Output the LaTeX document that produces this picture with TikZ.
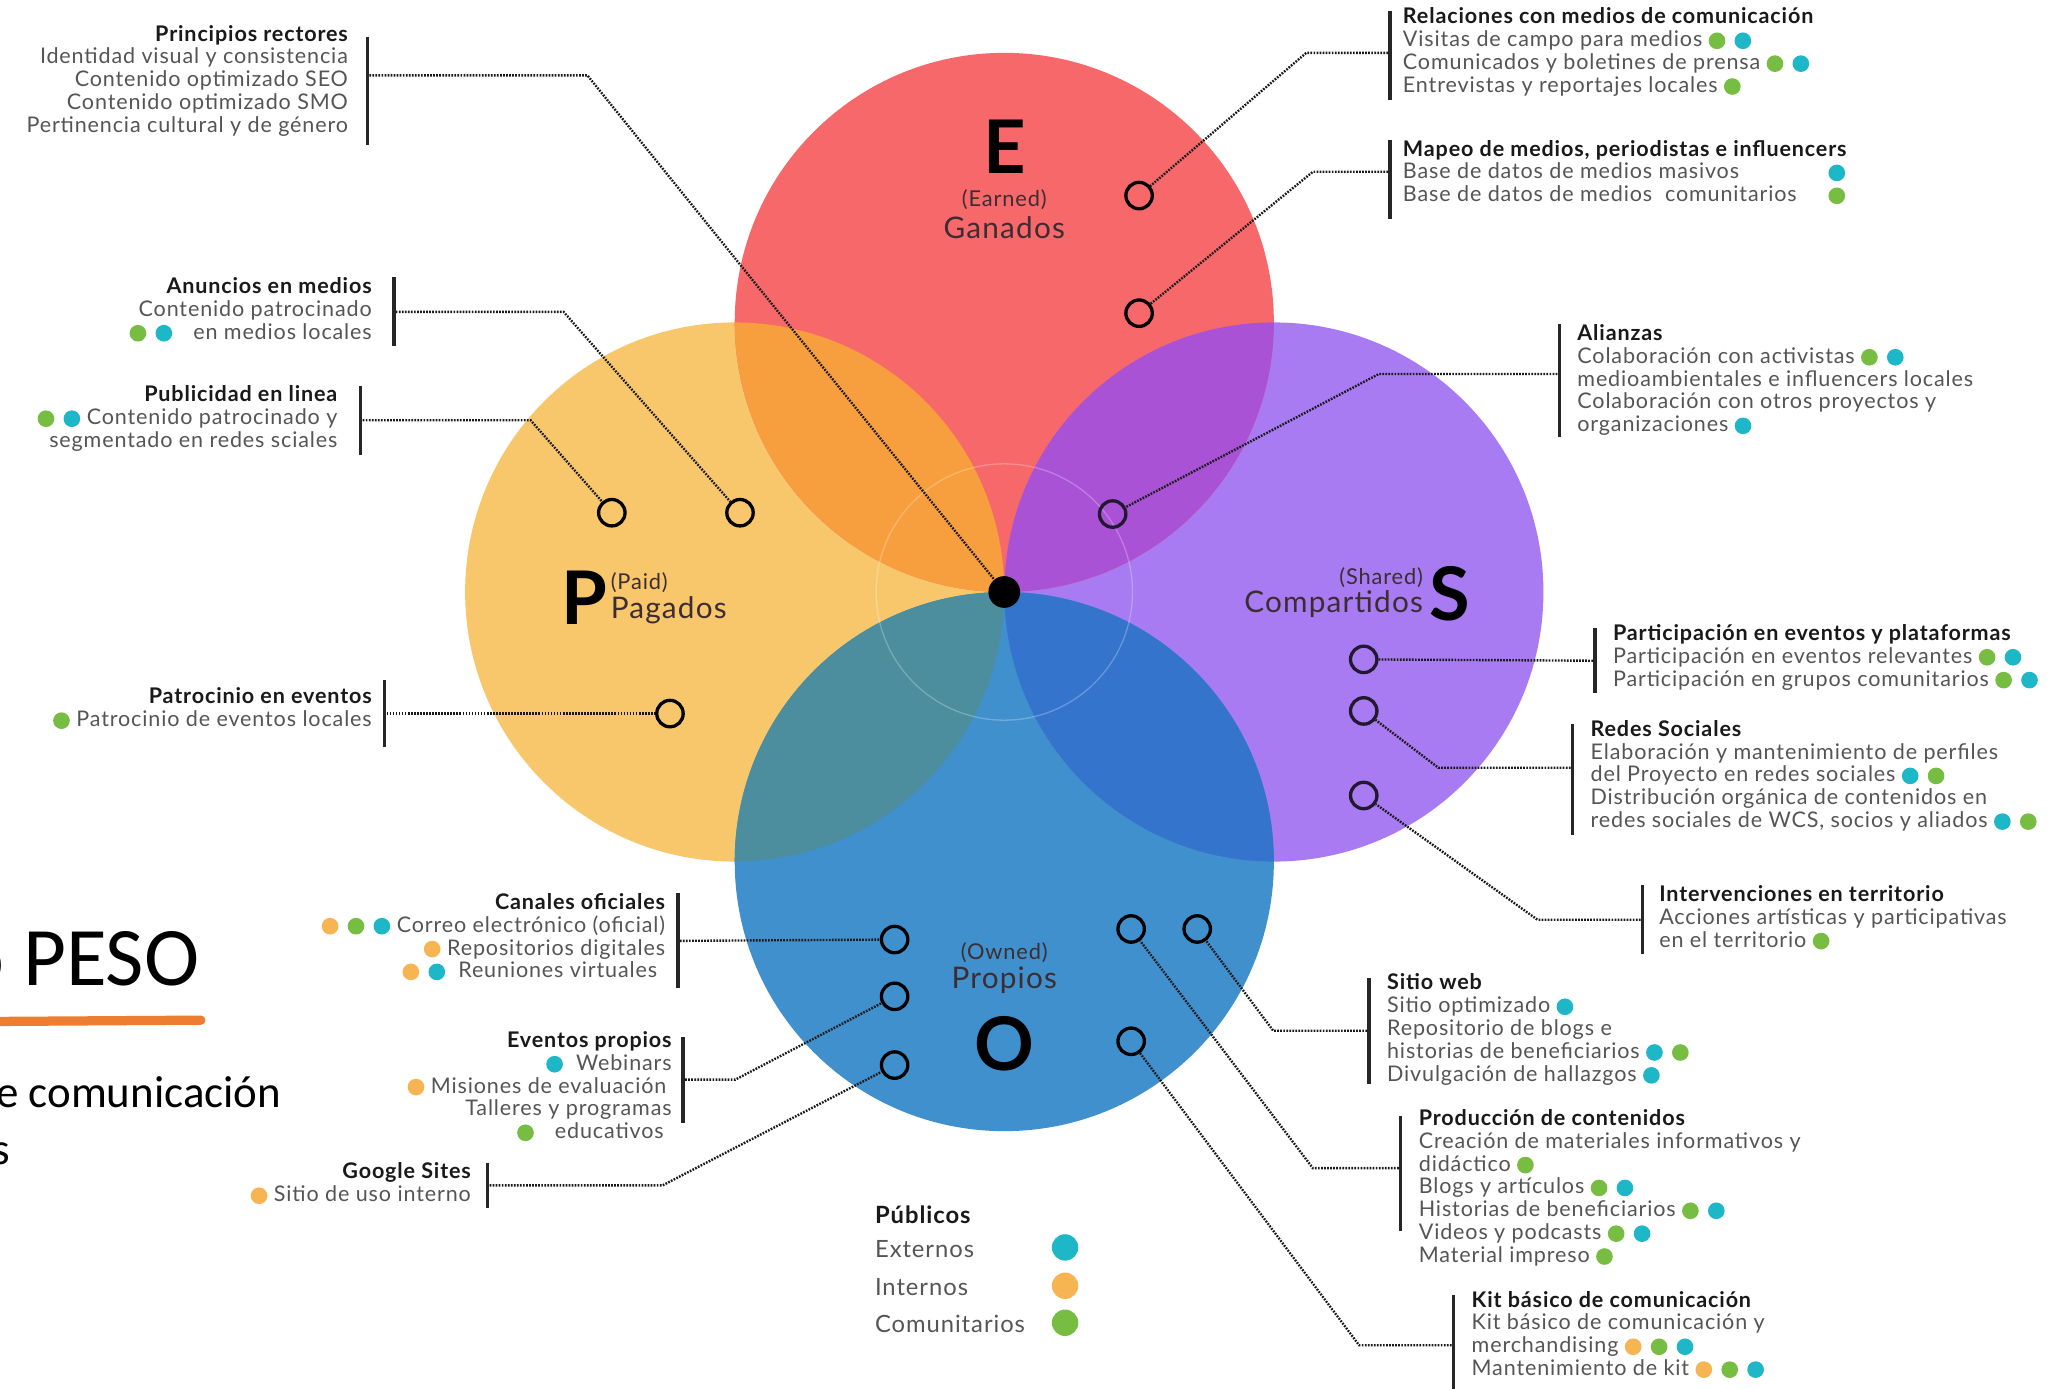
\documentclass[tikz,border=0pt]{standalone}
\usepackage{fontspec}
\setmainfont{Lato}[LetterSpace=4]
\newfontfamily\slidefont{Carlito}
\usetikzlibrary{positioning}
\definecolor{cRed}{RGB}{247,104,106}
\definecolor{cYel}{RGB}{248,199,107}
\definecolor{cPur}{RGB}{168,123,242}
\definecolor{cBlu}{RGB}{64,144,206}
\definecolor{cOrg}{RGB}{247,158,62}
\definecolor{cMag}{RGB}{170,82,214}
\definecolor{cTea}{RGB}{76,142,158}
\definecolor{cDbl}{RGB}{53,116,205}
\definecolor{dCyn}{RGB}{30,183,200}
\definecolor{dGrn}{RGB}{118,189,66}
\definecolor{dOrg}{RGB}{246,181,82}
\definecolor{tGry}{RGB}{85,85,85}
\definecolor{tBlk}{RGB}{25,25,25}
\definecolor{tCir}{RGB}{60,45,50}
\definecolor{slideOrg}{RGB}{237,125,49}
\tikzstyle{ring} = [draw=black, circle, line width=2.5pt, minimum size=20pt, inner sep=0pt]
\tikzstyle{link} = [draw=black!90, dash pattern=on 1.3pt off 1pt, line width=1.8pt]
\newcommand{\pd}[1]{\tikz[baseline=-0.55ex]\fill[#1] (0,0) circle (6.3pt);}
\newcommand{\gp}{\kern7pt}
\newcommand{\hd}[1]{\textcolor{tBlk}{\bfseries #1}}

\begin{document}
\begin{tikzpicture}[x=1pt, y=-1pt,
	vbar/.style={fill=black!85, minimum width=2.6pt, inner sep=0pt, minimum height=#1},
	lbl/.style={inner sep=0pt, text=tGry, font=\fontsize{16.3}{17.3}\selectfont},
	big/.style={inner sep=0pt, text=black, font=\bfseries\fontsize{56}{56}\selectfont},
	csub/.style={inner sep=0pt, text=tCir, font=\fontsize{16.5}{17}\selectfont},
	cname/.style={inner sep=0pt, text=tCir, font=\fontsize{22.5}{23}\selectfont},
	dotbig/.style={circle, fill=#1, minimum size=20pt, inner sep=0pt}]
    \fill[white] (0,0) rectangle (1568,1051);
    \useasboundingbox (0,0) rectangle (1568,1051);
    %% Circles
    \coordinate (cE) at (760,244);
    \coordinate (cP) at (556,448);
    \coordinate (cS) at (964,448);
    \coordinate (cO) at (760,652);
    \fill[cYel] (cP) circle (204pt);
    \fill[cPur] (cS) circle (204pt);
    \fill[cRed] (cE) circle (204pt);
    \fill[cBlu] (cO) circle (204pt);
    \begin{scope}
        \clip (cE) circle (204pt);
        \fill[cOrg] (cP) circle (204pt);
        \fill[cMag] (cS) circle (204pt);
    \end{scope}
    \begin{scope}
        \clip (cO) circle (204pt);
        \fill[cTea] (cP) circle (204pt);
        \fill[cDbl] (cS) circle (204pt);
    \end{scope}
    \draw[white, opacity=0.25, line width=1pt] (760,448) circle (97pt);
    \node[circle, fill=black, minimum size=24pt, inner sep=0pt] (hub) at (760,448) {};
	%% Circle titles
    \node[big] (lE) at (760,111) {E};
    \node[csub] (eE) at (760,151) {(Earned)};
    \node[cname] (gE) at (760,172) {Ganados};
    \node[big] (lP) at (442,452) {P};
    \node[csub, anchor=west] (eP) at (462,441) {(Paid)};
    \node[cname, anchor=west] (gP) at (462,462) {Pagados};
    \node[big] (lS) at (1097,449) {S};
    \node[csub, anchor=east] (eS) at (1077,437) {(Shared)};
    \node[cname, anchor=east] (gS) at (1077,457) {Compartidos};
    \node[big] (lO) at (760,790) {O};
    \node[csub] (eO) at (760,721) {(Owned)};
    \node[cname] (gO) at (760,742) {Propios};
	%% Markers
    \node[ring] (mE1) at (862,148) {};
    \node[ring] (mE2) at (862,237) {};
    \node[ring] (mP1) at (463,388) {};
    \node[ring] (mP2) at (560,388) {};
    \node[ring] (mP3) at (507,540) {};
    \node[ring, draw=black!80!cPur] (mS1) at (842,389) {};
    \node[ring, draw=black!80!cPur] (mS2) at (1032,499) {};
    \node[ring, draw=black!80!cPur] (mS3) at (1032,538) {};
    \node[ring, draw=black!80!cPur] (mS4) at (1032,602) {};
    \node[ring] (mO1) at (677,711) {};
    \node[ring] (mO2) at (677,754) {};
    \node[ring] (mO3) at (677,806) {};
    \node[ring] (mO4) at (856,703) {};
    \node[ring] (mO5) at (906,703) {};
    \node[ring] (mO6) at (856,788) {};
	%% Left labels
    \node[vbar=82] (vA) at (278,69) {};
    \node[lbl, align=right, left=13pt of vA.north west, anchor=north east, yshift=9pt] (tA)
        {\hd{Principios rectores}\\Identidad visual y consistencia\\Contenido optimizado SEO\\Contenido optimizado SMO\\Pertinencia cultural y de género};
    \node[vbar=52] (vB) at (298,236) {};
    \node[lbl, align=right, left=15pt of vB.north west, anchor=north east] (tB)
        {\hd{Anuncios en medios}\\Contenido patrocinado\\\pd{dGrn}\gp\pd{dCyn}\kern16pt en medios locales};
    \node[vbar=52] (vC) at (273,318) {};
    \node[lbl, align=right, left=16pt of vC.north west, anchor=north east] (tC)
        {\hd{Publicidad en linea}\\\pd{dGrn}\gp\pd{dCyn}\kern5pt Contenido patrocinado y\\segmentado en redes sciales};
    \node[vbar=51] (vD) at (291,540) {};
    \node[lbl, align=right, left=8pt of vD.north west, anchor=north east, yshift=-6pt] (tD)
        {\hd{Patrocinio en eventos}\\\pd{dGrn}\kern5pt Patrocinio de eventos locales};
    \node[vbar=72] (vE) at (513,712) {};
    \node[lbl, align=right, left=8pt of vE.north west, anchor=north east] (tE)
        {\hd{Canales oficiales}\\\pd{dOrg}\gp\pd{dGrn}\gp\pd{dCyn}\kern5pt Correo electrónico (oficial)\\\pd{dOrg}\kern5pt Repositorios digitales\\\pd{dOrg}\gp\pd{dCyn}\kern10pt Reuniones virtuales\kern6pt};
    \node[vbar=65] (vF) at (517,817) {};
    \node[lbl, align=right, left=7pt of vF.north west, anchor=north east, yshift=4pt] (tF)
        {\hd{Eventos propios}\\\pd{dCyn}\kern10pt Webinars\\\pd{dOrg}\kern5pt Misiones de evaluación\kern4pt\\Talleres y programas\\\pd{dGrn}\kern16pt educativos\kern6pt};
    \node[vbar=34] (vG) at (369,897) {};
    \node[lbl, align=right, left=11pt of vG.north west, anchor=north east] (tG)
        {\hd{Google Sites}\\\pd{dOrg}\kern5pt Sitio de uso interno};
	%% Right labels
    \node[vbar=68] (vH) at (1052,42) {};
    \node[lbl, align=left, right=8pt of vH.north east, anchor=north west, yshift=2pt] (tH)
        {\hd{Relaciones con medios de comunicación}\\Visitas de campo para medios \pd{dGrn}\gp\pd{dCyn}\\Comunicados y boletines de prensa \pd{dGrn}\gp\pd{dCyn}\\Entrevistas y reportajes locales \pd{dGrn}};
    \node[vbar=60] (vI) at (1052,136) {};
    \node[lbl, align=left, right=8pt of vI.north east, anchor=north west] (tI)
        {\hd{Mapeo de medios, periodistas e influencers}\\\makebox[322pt][l]{Base de datos de medios masivos}\pd{dCyn}\\\makebox[322pt][l]{Base de datos de medios\ \ comunitarios}\pd{dGrn}};
    \node[vbar=85] (vJ) at (1180,288) {};
    \node[lbl, align=left, right=12pt of vJ.north east, anchor=north west] (tJ)
        {\hd{Alianzas}\\Colaboración con activistas \pd{dGrn}\gp\pd{dCyn}\\medioambientales e influencers locales\\Colaboración con otros proyectos y\\organizaciones \pd{dCyn}};
    \node[vbar=49] (vK) at (1207,500) {};
    \node[lbl, align=left, right=12pt of vK.north east, anchor=north west, yshift=3pt] (tK)
        {\hd{Participación en eventos y plataformas}\\Participación en eventos relevantes \pd{dGrn}\gp\pd{dCyn}\\Participación en grupos comunitarios \pd{dGrn}\gp\pd{dCyn}};
    \node[vbar=84] (vL) at (1190,590) {};
    \node[lbl, align=left, right=12pt of vL.north east, anchor=north west, yshift=3pt] (tL)
        {\hd{Redes Sociales}\\Elaboración y mantenimiento de perfiles\\del Proyecto en redes sociales \pd{dCyn}\gp\pd{dGrn}\\Distribución orgánica de contenidos en\\redes sociales de WCS, socios y aliados \pd{dCyn}\gp\pd{dGrn}};
    \node[vbar=52] (vM) at (1243,696) {};
    \node[lbl, align=left, right=11pt of vM.north east, anchor=north west] (tM)
        {\hd{Intervenciones en territorio}\\Acciones artísticas y participativas\\en el territorio \pd{dGrn}};
    \node[vbar=80] (vN) at (1036,780) {};
    \node[lbl, align=left, right=12pt of vN.north east, anchor=north west, yshift=3pt] (tN)
        {\hd{Sitio web}\\Sitio optimizado \pd{dCyn}\\Repositorio de blogs e\\historias de beneficiarios \pd{dCyn}\gp\pd{dGrn}\\Divulgación de hallazgos \pd{dCyn}};
    \node[vbar=87] (vO) at (1060,888) {};
    \node[lbl, align=left, right=12pt of vO.north east, anchor=north west, yshift=5pt] (tO)
        {\hd{Producción de contenidos}\\Creación de materiales informativos y\\didáctico \pd{dGrn}\\Blogs y artículos \pd{dGrn}\gp\pd{dCyn}\\Historias de beneficiarios \pd{dGrn}\gp\pd{dCyn}\\Videos y podcasts \pd{dGrn}\gp\pd{dCyn}\\Material impreso \pd{dGrn}};
    \node[vbar=76] (vP) at (1100,1018) {};
    \node[lbl, align=left, right=12pt of vP.north east, anchor=north west, yshift=3pt] (tP)
        {\hd{Kit básico de comunicación}\\Kit básico de comunicación y\\merchandising \pd{dOrg}\gp\pd{dGrn}\gp\pd{dCyn}\\Mantenimiento de kit \pd{dOrg}\gp\pd{dGrn}\gp\pd{dCyn}};
	%% Connectors
    \path[link] ([yshift=12pt]vA.east) -- ++(165,0) -- (hub);
    \path[link] (vB.east) -- ++(127,0) -- (mP2);
    \path[link] (vC.east) -- ++(127,0) -- (mP1);
    \path[link] (vD.east) -- (mP3);
    \path[link] (vE.east) -- (mO1);
    \path[link] (vF.east) -- ++(38,0) -- (mO2);
    \path[link] (vG.east) -- ++(131,0) -- (mO3);
    \path[link] ([yshift=2pt]vH.west) -- ++(-62,0) -- (mE1);
    \path[link] ([yshift=6pt]vI.west) -- ++(-57,0) -- (mE2);
    \path[link] ([yshift=5pt]vJ.west) -- ++(-135,0) -- (mS1);
    \path[link] (vK.west) -- (mS2);
    \path[link] ([yshift=9pt]vL.west) -- ++(-100,0) -- (mS3);
    \path[link] (vM.west) -- ++(-78,0) -- (mS4);
    \path[link] (vN.west) -- ++(-71,0) -- (mO5);
    \path[link] ([yshift=4pt]vO.west) -- ++(-65,0) -- (mO4);
    \path[link] (vP.west) -- ++(-70,0) -- (mO6);
	%% Legend
    \node[lbl, anchor=west, font=\fontsize{18}{20}\selectfont] (pub) at (662,919) {\hd{Públicos}};
    \node[lbl, anchor=west, font=\fontsize{18}{20}\selectfont] (ext) at (662,945) {Externos};
    \node[lbl, anchor=west, font=\fontsize{18}{20}\selectfont] (int) at (662,974) {Internos};
    \node[lbl, anchor=west, font=\fontsize{18}{20}\selectfont] (com) at (662,1002) {Comunitarios};
    \node[dotbig=dCyn] (dExt) at (806,944) {};
    \node[dotbig=dOrg] (dInt) at (806,973) {};
    \node[dotbig=dGrn] (dCom) at (806,1001) {};
	%% Slide fragment
    \node[anchor=base east, inner sep=0pt, font=\slidefont\fontsize{63}{63}\selectfont] (peso) at (151,746) {o PESO};
    \draw[slideOrg, line width=7pt, line cap=round] (-5,773) -- (152,772);
    \node[anchor=base east, inner sep=0pt, font=\slidefont\fontsize{34}{34}\selectfont] (slA) at (213,838) {e comunicación};
    \node[anchor=base west, inner sep=0pt, font=\slidefont\fontsize{34}{34}\selectfont] (slB) at (-6,881) {s};
\end{tikzpicture}
\end{document}
